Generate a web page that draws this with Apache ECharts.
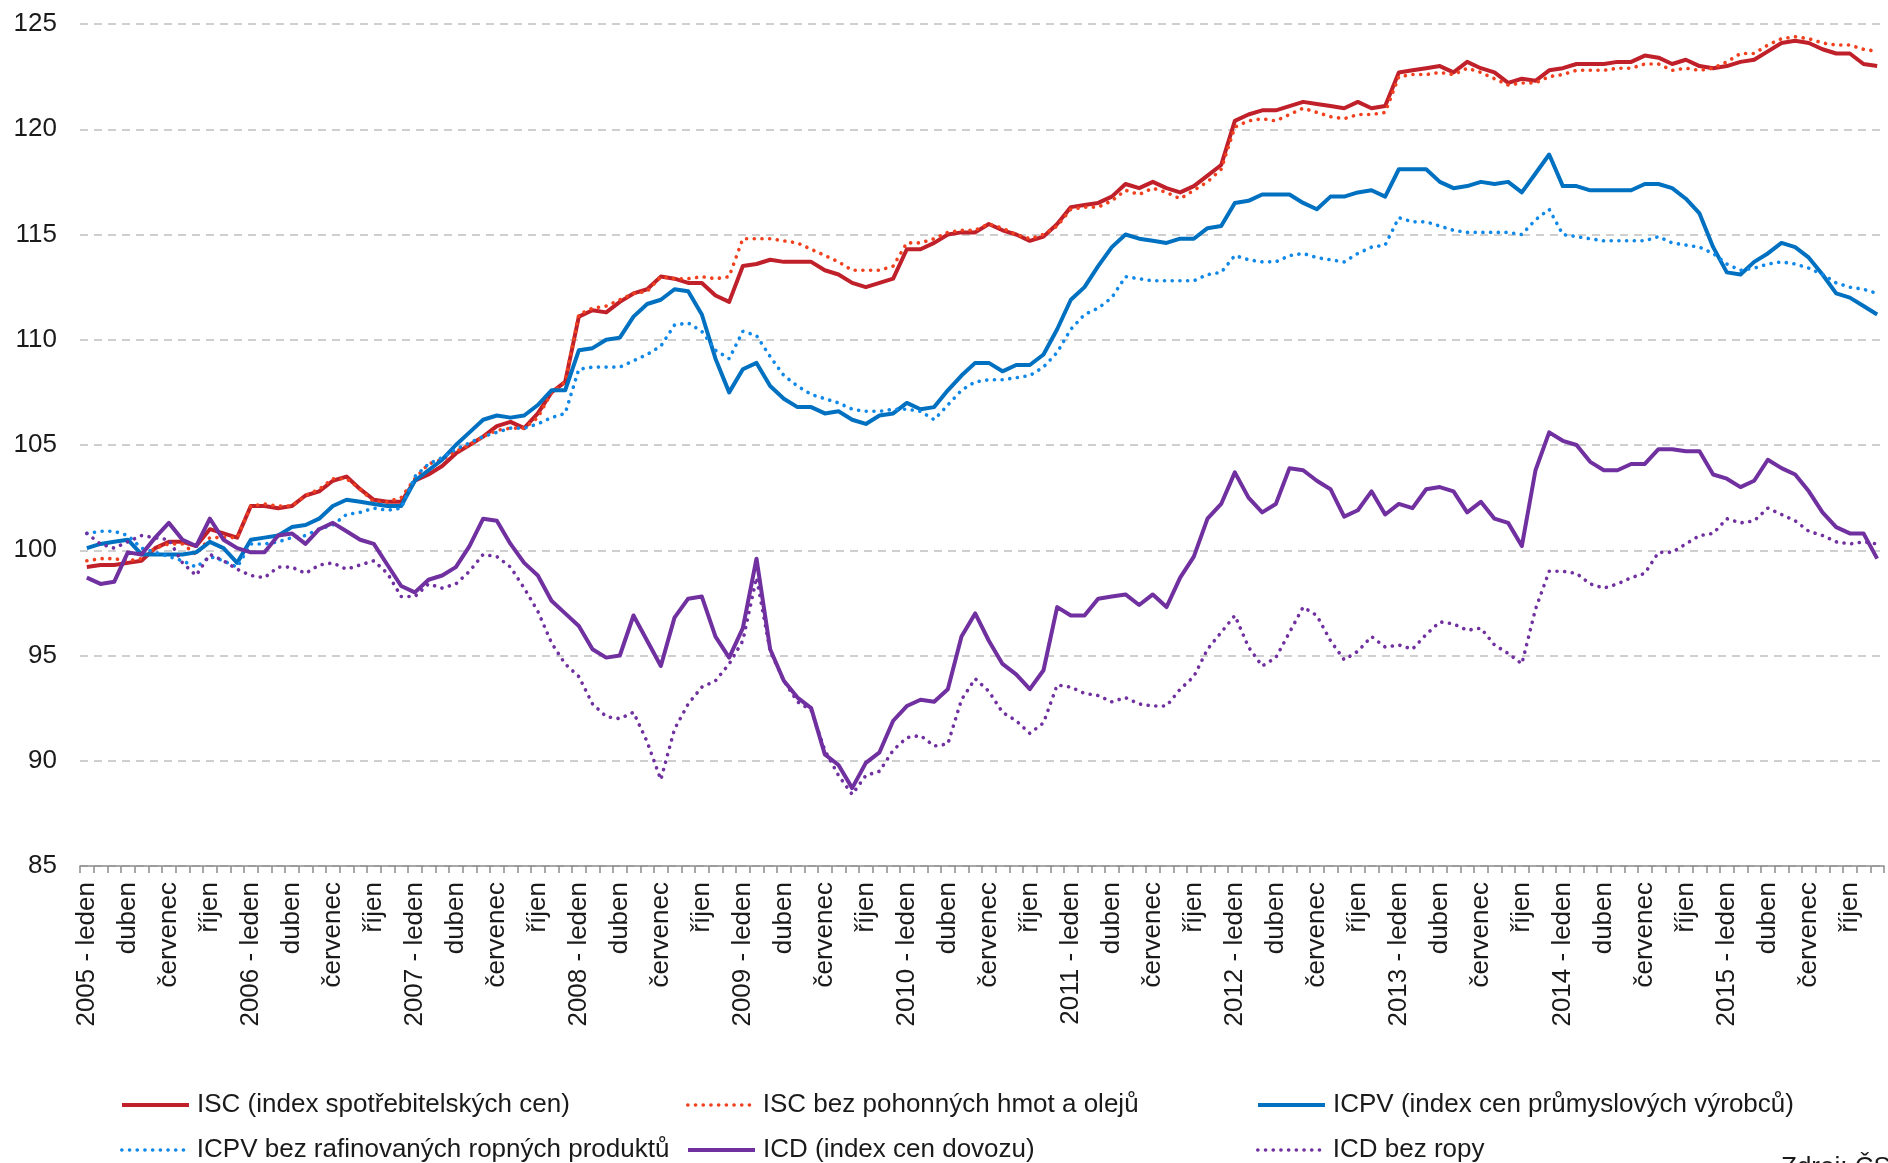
<!DOCTYPE html>
<html><head><meta charset="utf-8">
<script src="https://cdn.jsdelivr.net/npm/echarts@6/dist/echarts.min.js"></script>
<style>html,body{margin:0;padding:0;background:#fff}#chart{width:1888px;height:1163px}</style>
</head><body><div id="chart"></div>
<script>
const years = [2005,2006,2007,2008,2009,2010,2011,2012,2013,2014,2015];
const monthNames = ["leden","únor","březen","duben","květen","červen","červenec","srpen","září","říjen","listopad","prosinec"];
const categories = [];
years.forEach(y => monthNames.forEach((m, k) => categories.push(k === 0 ? y + " - " + m : m)));

const seriesNames = ["ISC (index spotřebitelských cen)","ISC bez pohonných hmot a olejů","ICPV (index cen průmyslových výrobců)","ICPV bez rafinovaných ropných produktů","ICD (index cen dovozu)","ICD bez ropy"];

const isc = [99.2,99.3,99.3,99.4,99.5,100.1,100.4,100.4,100.2,101.0,100.8,100.6,
102.1,102.1,102.0,102.1,102.6,102.8,103.3,103.5,102.9,102.4,102.3,102.3,
103.3,103.6,104.0,104.6,105.0,105.4,105.9,106.1,105.8,106.5,107.5,108.0,
111.1,111.4,111.3,111.8,112.2,112.4,113.0,112.9,112.7,112.7,112.1,111.8,
113.5,113.6,113.8,113.7,113.7,113.7,113.3,113.1,112.7,112.5,112.7,112.9,
114.3,114.3,114.6,115.0,115.1,115.1,115.5,115.2,115.0,114.7,114.9,115.5,
116.3,116.4,116.5,116.8,117.4,117.2,117.5,117.2,117.0,117.3,117.8,118.3,
120.4,120.7,120.9,120.9,121.1,121.3,121.2,121.1,121.0,121.3,121.0,121.1,
122.7,122.8,122.9,123.0,122.7,123.2,122.9,122.7,122.2,122.4,122.3,122.8,
122.9,123.1,123.1,123.1,123.2,123.2,123.5,123.4,123.1,123.3,123.0,122.9,
123.0,123.2,123.3,123.7,124.1,124.2,124.1,123.8,123.6,123.6,123.1,123.0];

const iscBezPHM = [99.5,99.6,99.6,99.5,99.6,100.1,100.3,100.3,99.8,100.6,100.6,100.6,
102.1,102.2,102.1,102.1,102.6,102.9,103.4,103.4,102.9,102.3,102.3,102.5,
103.4,104.1,104.3,104.7,105.0,105.4,105.7,105.8,105.8,106.3,107.5,108.0,
111.2,111.5,111.6,111.9,112.2,112.3,113.0,112.9,112.9,113.0,112.9,113.0,
114.8,114.8,114.8,114.7,114.6,114.3,114.0,113.7,113.3,113.3,113.3,113.5,
114.6,114.6,114.8,115.1,115.2,115.2,115.5,115.3,115.0,114.8,115.0,115.4,
116.2,116.3,116.3,116.6,117.1,116.9,117.2,117.0,116.7,117.1,117.5,118.1,
120.1,120.4,120.5,120.4,120.7,121.0,120.8,120.6,120.5,120.7,120.7,120.8,
122.5,122.6,122.6,122.7,122.6,122.9,122.7,122.4,122.1,122.2,122.2,122.5,
122.6,122.8,122.8,122.8,122.9,122.9,123.1,123.1,122.8,122.9,122.8,122.9,
123.2,123.6,123.6,124.0,124.3,124.4,124.3,124.1,124.0,124.0,123.8,123.7];

const icpv = [100.1,100.3,100.4,100.5,99.8,99.8,99.8,99.8,99.9,100.4,100.1,99.4,
100.5,100.6,100.7,101.1,101.2,101.5,102.1,102.4,102.3,102.2,102.1,102.1,
103.3,103.8,104.3,105.0,105.6,106.2,106.4,106.3,106.4,106.9,107.6,107.6,
109.5,109.6,110.0,110.1,111.1,111.7,111.9,112.4,112.3,111.2,109.1,107.5,
108.6,108.9,107.8,107.2,106.8,106.8,106.5,106.6,106.2,106.0,106.4,106.5,
107.0,106.7,106.8,107.6,108.3,108.9,108.9,108.5,108.8,108.8,109.3,110.5,
111.9,112.5,113.5,114.4,115.0,114.8,114.7,114.6,114.8,114.8,115.3,115.4,
116.5,116.6,116.9,116.9,116.9,116.5,116.2,116.8,116.8,117.0,117.1,116.8,
118.1,118.1,118.1,117.5,117.2,117.3,117.5,117.4,117.5,117.0,117.9,118.8,
117.3,117.3,117.1,117.1,117.1,117.1,117.4,117.4,117.2,116.7,116.0,114.4,
113.2,113.1,113.7,114.1,114.6,114.4,113.9,113.1,112.2,112.0,111.6,111.2];

const icpvBezRop = [100.8,100.9,100.9,100.7,100.1,99.9,99.7,99.5,99.2,99.7,99.5,99.2,
100.3,100.3,100.4,100.6,100.7,101.0,101.2,101.7,101.8,102.0,101.9,102.0,
103.5,104.1,104.4,104.8,105.1,105.4,105.6,105.8,105.8,106.0,106.3,106.5,
108.6,108.7,108.7,108.7,109.0,109.3,109.7,110.7,110.8,110.4,109.5,109.1,
110.4,110.2,109.2,108.3,107.8,107.4,107.2,107.0,106.7,106.6,106.6,106.7,
106.7,106.6,106.2,106.9,107.6,108.0,108.1,108.1,108.2,108.3,108.7,109.4,
110.5,111.2,111.5,112.0,113.0,112.9,112.8,112.8,112.8,112.8,113.1,113.2,
114.0,113.8,113.7,113.7,114.0,114.1,113.9,113.8,113.7,114.1,114.4,114.5,
115.8,115.6,115.6,115.4,115.2,115.1,115.1,115.1,115.1,115.0,115.7,116.2,
115.0,114.9,114.8,114.7,114.7,114.7,114.7,114.9,114.6,114.5,114.4,114.1,
113.6,113.3,113.4,113.6,113.7,113.6,113.4,113.1,112.7,112.5,112.4,112.2];

const icd = [98.7,98.4,98.5,99.9,99.8,100.6,101.3,100.5,100.2,101.5,100.5,100.1,
99.9,99.9,100.7,100.8,100.3,101.0,101.3,100.9,100.5,100.3,99.3,98.3,
98.0,98.6,98.8,99.2,100.2,101.5,101.4,100.3,99.4,98.8,97.6,97.0,
96.4,95.3,94.9,95.0,96.9,95.7,94.5,96.8,97.7,97.8,95.9,94.9,
96.3,99.6,95.3,93.8,93.0,92.5,90.3,89.8,88.7,89.9,90.4,91.9,
92.6,92.9,92.8,93.4,95.9,97.0,95.7,94.6,94.1,93.4,94.3,97.3,
96.9,96.9,97.7,97.8,97.9,97.4,97.9,97.3,98.7,99.7,101.5,102.2,
103.7,102.5,101.8,102.2,103.9,103.8,103.3,102.9,101.6,101.9,102.8,101.7,
102.2,102.0,102.9,103.0,102.8,101.8,102.3,101.5,101.3,100.2,103.8,105.6,
105.2,105.0,104.2,103.8,103.8,104.1,104.1,104.8,104.8,104.7,104.7,103.6,
103.4,103.0,103.3,104.3,103.9,103.6,102.8,101.8,101.1,100.8,100.8,99.6];

const icdBezRopy = [100.8,100.3,100.1,100.4,100.7,100.6,100.5,99.4,98.8,99.8,99.5,99.1,
98.8,98.7,99.2,99.2,98.9,99.3,99.4,99.1,99.3,99.5,98.9,97.8,
97.8,98.4,98.2,98.4,99.0,99.8,99.7,99.2,98.2,97.1,95.6,94.6,
94.0,92.7,92.1,92.0,92.3,90.9,89.1,91.5,92.7,93.5,93.8,94.6,
95.7,98.7,95.2,93.8,92.8,92.4,90.5,89.3,88.4,89.3,89.5,90.5,
91.1,91.2,90.7,90.8,92.9,93.9,93.3,92.3,91.9,91.3,91.8,93.6,
93.5,93.2,93.1,92.8,93.0,92.7,92.6,92.6,93.4,94.0,95.3,96.1,
96.9,95.4,94.5,94.9,96.1,97.3,96.9,95.7,94.8,95.2,95.9,95.4,
95.5,95.3,96.0,96.6,96.5,96.2,96.3,95.5,95.1,94.6,97.2,99.0,
99.0,98.9,98.4,98.2,98.4,98.7,98.9,99.9,99.9,100.3,100.7,100.8,
101.5,101.3,101.4,102.0,101.7,101.4,100.9,100.7,100.4,100.3,100.4,100.3];

const seriesData = [isc, iscBezPHM, icpv, icpvBezRop, icd, icdBezRopy];
const colors = ["#C0202A","#F0401E","#0070C0","#1088E8","#7030A0","#7030A0"];
const dotted = [false,true,false,true,false,true];

const FONT = "'Liberation Sans', Arial, sans-serif";
const chart = echarts.init(document.getElementById('chart'), null, {renderer:'canvas'});

function lineStyleFor(i) {
  return dotted[i]
    ? {color: colors[i], width: 3.6, type: [0.1, 7.6], cap: 'round'}
    : {color: colors[i], width: 4, type: 'solid', join: 'round', cap: 'butt'};
}

const series = seriesNames.map((name, i) => ({
  name: name,
  type: 'line',
  data: seriesData[i],
  symbol: 'none',
  smooth: false,
  animation: false,
  lineStyle: lineStyleFor(i),
  itemStyle: {color: colors[i]}
}));

const legendPos = [[120,1092],[686,1092],[1256,1092],[120,1137],[686,1137],[1256,1137]];
const legends = seriesNames.map((name, i) => ({
  data: [name],
  left: legendPos[i][0],
  top: legendPos[i][1],
  padding: 0,
  itemWidth: 67,
  itemHeight: 14,
  itemGap: 0,
  selectedMode: false,
  itemStyle: {opacity: 0},
  lineStyle: lineStyleFor(i),
  textStyle: {fontFamily: FONT, fontSize: 26, color: '#1a1a1a', padding: [0,0,0,3]}
}));

chart.setOption({
  animation: false,
  backgroundColor: '#ffffff',
  color: colors,
  grid: {left: 80, right: 4, top: 24, bottom: 297, containLabel: false},
  legend: legends,
  xAxis: {
    type: 'category',
    data: categories,
    boundaryGap: true,
    axisLine: {show: true, lineStyle: {color: '#8c8c8c', width: 1.5}},
    axisTick: {show: true, interval: 0, length: 7, alignWithLabel: false, lineStyle: {color: '#8c8c8c', width: 1.5}},
    axisLabel: {interval: 2, rotate: 90, margin: 16, fontFamily: FONT, fontSize: 26, color: '#1a1a1a'},
    splitLine: {show: false}
  },
  yAxis: {
    type: 'value',
    min: 85, max: 125, interval: 5,
    axisLine: {show: false},
    axisTick: {show: false},
    axisLabel: {margin: 23, fontFamily: FONT, fontSize: 26, color: '#1a1a1a'},
    splitLine: {show: true, lineStyle: {color: '#c0c0c0', width: 1.5, type: [8, 6]}}
  },
  graphic: [{
    type: 'text', left: 1781, top: 1155,
    style: {text: 'Zdroj: ČSÚ', font: '26px ' + FONT, fill: '#1a1a1a'}
  }],
  series: series
});
</script>
</body></html>
